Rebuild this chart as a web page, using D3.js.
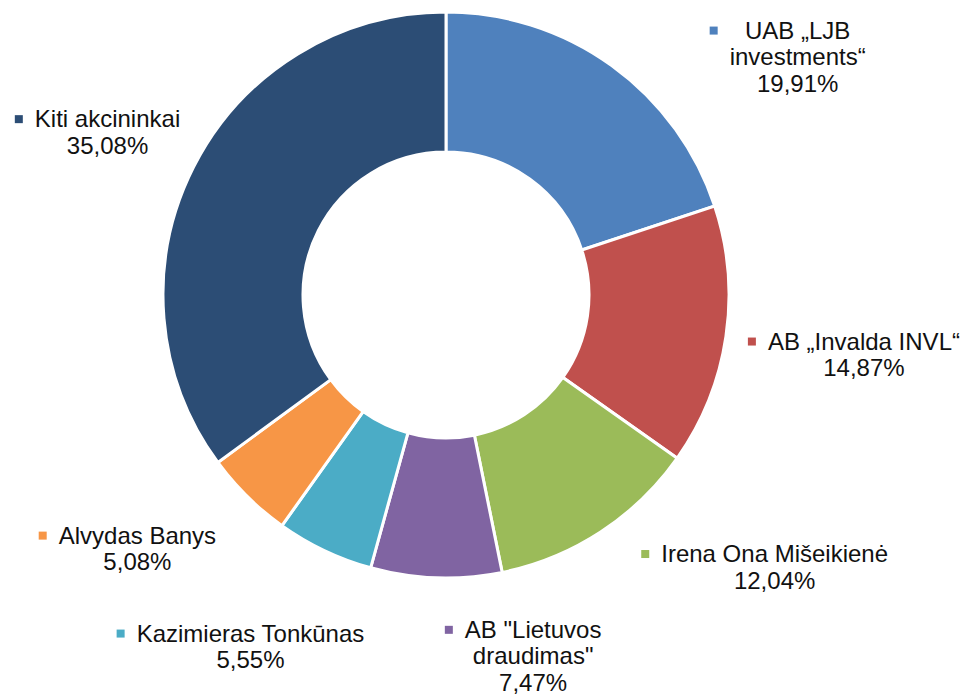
<!DOCTYPE html>
<html lang="lt">
    <head>
        <meta charset="utf-8">
        <title>Akcininkai</title>
        <script src="https://d3js.org/d3.v7.min.js"></script>
        <style type="text/css">
            body { margin: 0; background: #fff; }
            text {
                font-family: "Liberation Sans", Arial, sans-serif;
                font-size: 24px;
                fill: #111;
            }
        </style>
    </head>
    <body>
        <svg width="964" height="695"></svg>
        <script type="text/javascript">

            // shareholders, clockwise from 12 o'clock
            const names = [
                ["UAB „LJB", "investments“"],
                ["AB „Invalda INVL“"],
                ["Irena Ona Mišeikienė"],
                ["AB \"Lietuvos", "draudimas\""],
                ["Kazimieras Tonkūnas"],
                ["Alvydas Banys"],
                ["Kiti akcininkai"]
            ];
            const shares = [19.91, 14.87, 12.04, 7.47, 5.55, 5.08, 35.08];
            const colors = ['#4F81BD','#C0504D','#9BBB59','#8064A2','#4BACC6','#F79646','#2C4D75'];

            // label nudges from the outer edge of each slice (dx, dy of first baseline)
            const labelNudge = [[186,-27],[138,13],[174,30],[97,60],[-74,91],[-110,47],[-86,-40]];

            const svg = d3.select("svg");
            const cx = 446, cy = 295;
            const outerR = 283, innerR = 143;
            const lineH = 26.5;

            const fmt = d3.formatLocale({decimal: ",", thousands: " ", grouping: [3], currency: ["", "%"]}).format(".2f");

            const pie = d3.pie().sort(null).value(d => d);
            const arcs = pie(shares);
            const arc = d3.arc().innerRadius(innerR).outerRadius(outerR);

            const g = svg.append("g").attr("transform", `translate(${cx},${cy})`);

            g.selectAll("path")
             .data(arcs)
             .enter()
             .append("path")
             .attr("d", arc)
             .style("fill", (d,i) => colors[i])
             .style("stroke", "#fff")
             .style("stroke-width", 3)
             .style("stroke-linejoin", "miter");

            const labels = g.selectAll("g.lbl")
                            .data(arcs)
                            .enter()
                            .append("g")
                            .attr("class", "lbl")
                            .attr("transform", (d,i) => {
                                const a = (d.startAngle + d.endAngle) / 2;
                                const x = Math.sin(a) * outerR + labelNudge[i][0];
                                const y = -Math.cos(a) * outerR + labelNudge[i][1];
                                return `translate(${x},${y})`;
                            });

            labels.each(function(d, i) {
                const sel = d3.select(this);
                const lines = names[i].concat([fmt(d.data) + "%"]);
                const t = sel.append("text").attr("text-anchor", "middle");
                lines.forEach((s, k) => {
                    t.append("tspan").attr("x", 0).attr("y", k * lineH).text(s);
                });
                // legend key to the left of the widest line
                const w = t.node().getBBox().width;
                sel.append("rect")
                   .attr("x", -w / 2 - 12 - 8)
                   .attr("y", -12)
                   .attr("width", 8)
                   .attr("height", 8)
                   .style("fill", colors[i]);
            });

        </script>
    </body>
</html>
